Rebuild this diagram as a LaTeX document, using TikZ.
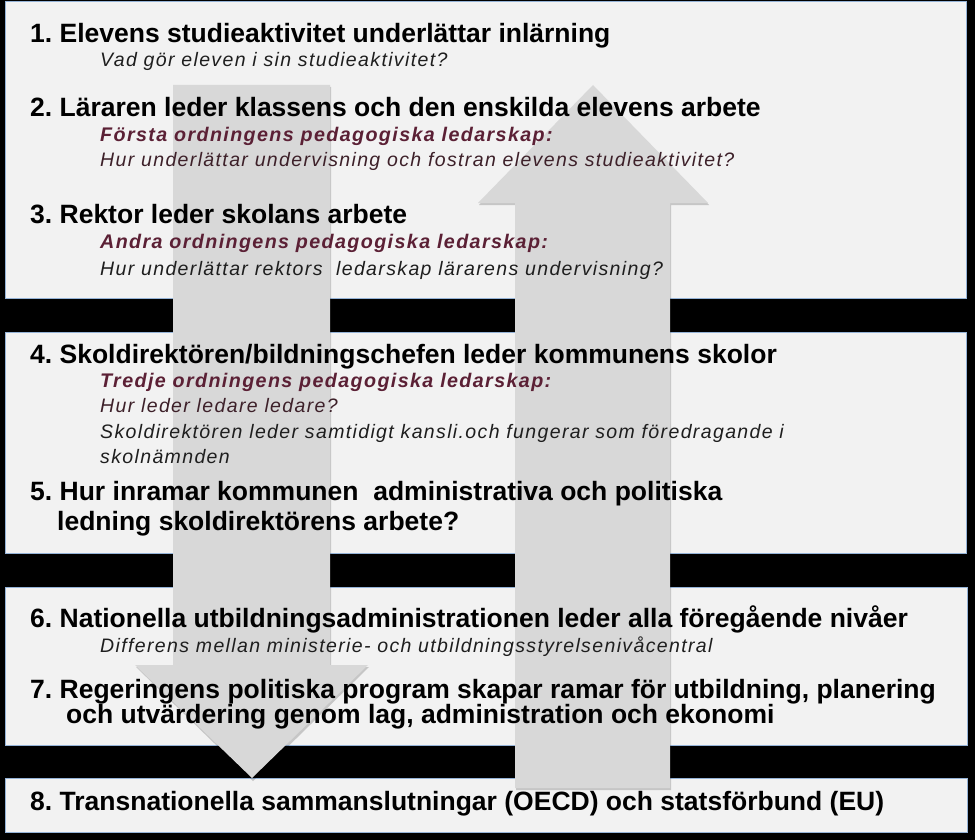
\documentclass[tikz,border=0pt]{standalone}
\usepackage{fontspec}
\setmainfont{Liberation Sans}
\newfontfamily\itfont[LetterSpace=7]{Liberation Sans}
\definecolor{boxfill}{HTML}{F2F2F2}
\definecolor{boxline}{HTML}{95B3D7}
\definecolor{arrowfill}{HTML}{D8D8D8}
\definecolor{maroon}{HTML}{5B2035}
\definecolor{darkmaroon}{HTML}{3D2029}
\definecolor{subgray}{HTML}{1E1E1E}
\tikzset{
  levelbox/.style={fill=boxfill, draw=boxline, line width=1pt},
  bigarrow/.style={fill=arrowfill},
  arrowshadow/.style={fill=black, opacity=0.18},
  head/.style={anchor=base west, inner sep=0pt, text=black, font=\fontsize{26.5}{30}\selectfont\bfseries},
  sub/.style={anchor=base west, inner sep=0pt, text=subgray, font=\itfont\fontsize{19.5}{22}\selectfont\itshape},
  subm/.style={sub, text=darkmaroon},
  ord/.style={anchor=base west, inner sep=0pt, text=maroon, font=\itfont\fontsize{19.7}{22}\selectfont\bfseries\itshape}
}
\frenchspacing
\begin{document}
\frenchspacing
\begin{tikzpicture}[x=1pt,y=-1pt]
\fill[black] (0,0) rectangle (975,840);
\useasboundingbox (0,0) rectangle (975,840);
% level boxes
\draw[levelbox] (5,2) rectangle (966,298);
\draw[levelbox] (5,332) rectangle (966,553);
\draw[levelbox] (5,587) rectangle (967,745);
\draw[levelbox] (5,778) rectangle (967,832);
% shadows of arrows
\fill[arrowshadow] (174,87) -- (331,87) -- (331,667) -- (369,667) -- (253,781) -- (136,667) -- (174,667) -- cycle;
\fill[arrowshadow] (594,87) -- (709,205) -- (671,205) -- (671,790) -- (516,790) -- (516,205) -- (479,205) -- cycle;
% down arrow
\fill[bigarrow] (173,85) -- (330,85) -- (330,665) -- (368,665) -- (252,778) -- (135,665) -- (173,665) -- cycle;
% up arrow
\fill[bigarrow] (593,85) -- (708,203) -- (670,203) -- (670,788) -- (515,788) -- (515,203) -- (478,203) -- cycle;
% texts
\node[head] (t1) at (30,43) {1. Elevens studieaktivitet underlättar inlärning};
\node[sub] (t1a) at (100,67) {Vad gör eleven i sin studieaktivitet?};
\node[head] (t2) at (30,117) {2. Läraren leder klassens och den enskilda elevens arbete};
\node[ord] (t2a) at (100,142) {Första ordningens pedagogiska ledarskap:};
\node[subm] (t2b) at (100,167) {Hur underlättar undervisning och fostran elevens studieaktivitet?};
\node[head] (t3) at (30,223) {3. Rektor leder skolans arbete};
\node[ord] (t3a) at (100,248) {Andra ordningens pedagogiska ledarskap:};
\node[sub] (t3b) at (100,275) {Hur underlättar rektors\ \ ledarskap lärarens undervisning?};
\node[head] (t4) at (30,363) {4. Skoldirektören/bildningschefen leder kommunens skolor};
\node[ord] (t4a) at (100,387) {Tredje ordningens pedagogiska ledarskap:};
\node[subm] (t4b) at (100,412) {Hur leder ledare ledare?};
\node[sub] (t4c) at (100,438) {Skoldirektören leder samtidigt kansli.och fungerar som föredragande i};
\node[sub] (t4d) at (100,463) {skolnämnden};
\node[head] (t5) at (30,500) {5. Hur inramar kommunen\ \ administrativa och politiska};
\node[head] (t5b) at (57,530) {ledning skoldirektörens arbete?};
\node[head] (t6) at (30,627) {6. Nationella utbildningsadministrationen leder alla föregående nivåer};
\node[sub] (t6a) at (100,652) {Differens mellan ministerie- och utbildningsstyrelsenivåcentral};
\node[head] (t7) at (30,698) {7. Regeringens politiska program skapar ramar för utbildning, planering};
\node[head] (t7b) at (66,723) {och utvärdering genom lag, administration och ekonomi};
\node[head] (t8) at (30,810) {8. Transnationella sammanslutningar (OECD) och statsförbund (EU)};
\end{tikzpicture}
\end{document}
